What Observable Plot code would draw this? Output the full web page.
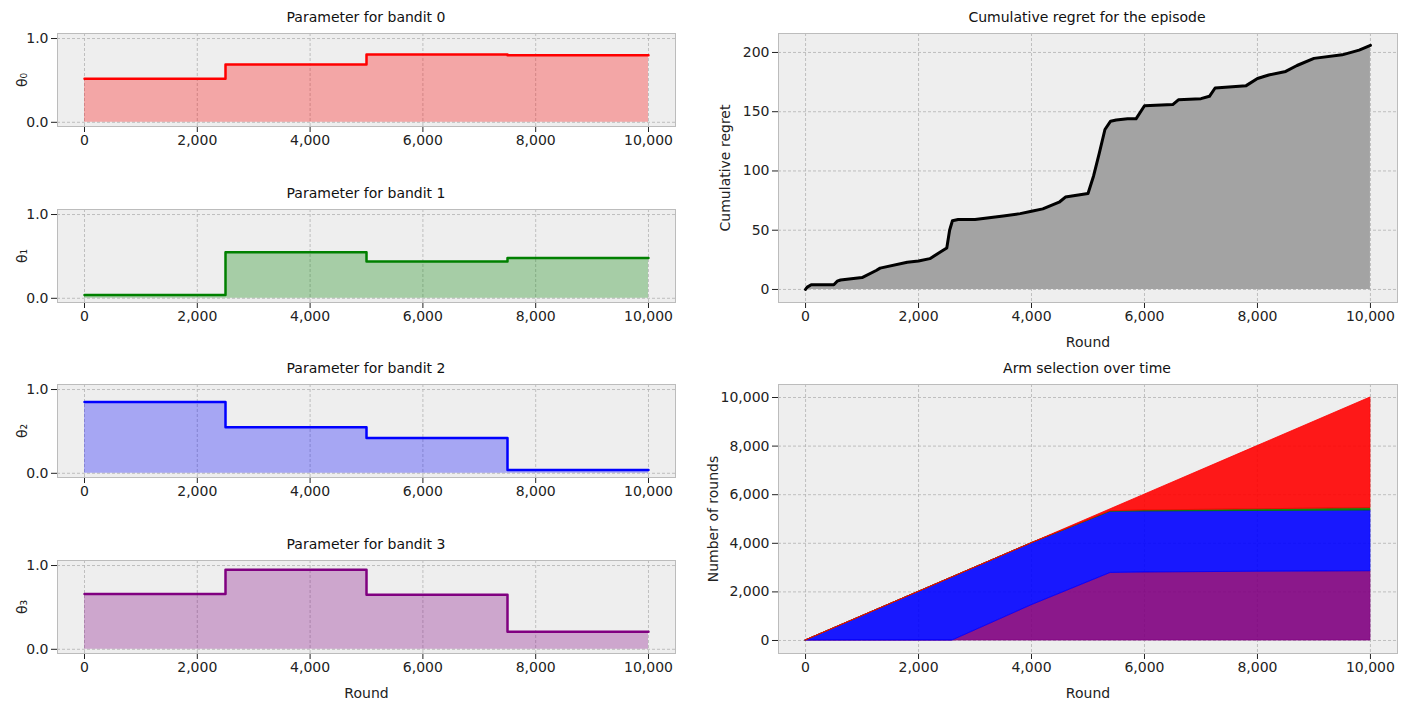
<!DOCTYPE html>
<html>
<head>
<meta charset="utf-8">
<script src="https://cdn.jsdelivr.net/npm/d3@7"></script>
<script src="https://cdn.jsdelivr.net/npm/@observablehq/plot@0.6"></script>
<style>
  body { margin: 0; background: #fff; font-family: "DejaVu Sans", sans-serif; }
  #wrap { position: relative; width: 1408px; height: 707px; }
  .panel { position: absolute; }
  .ttl { position: absolute; font-size: 14px; color: #111; text-align: center; }
</style>
</head>
<body>
<div id="wrap"></div>
<script>
// change points of the bandit parameters
const steps = [0, 2500, 5000, 7500, 10000]
const theta0 = [0.52, 0.69, 0.81, 0.80]
const theta1 = [0.04, 0.55, 0.44, 0.48]
const theta2 = [0.85, 0.55, 0.42, 0.04]
const theta3 = [0.66, 0.95, 0.65, 0.21]
const banditColors = ["red", "green", "blue", "purple"]

// cumulative regret
const regretRound = [0, 30, 100, 500, 560, 620, 1000, 1250, 1320, 1800, 2000, 2200, 2400, 2500, 2550, 2600, 2700, 3000, 3500, 3800, 4000, 4200, 4500, 4600, 5000, 5100, 5200, 5300, 5400, 5500, 5700, 5850, 6000, 6500, 6600, 7000, 7150, 7250, 7800, 8000, 8200, 8500, 8700, 9000, 9500, 9800, 10000]
const regretValue = [0, 2, 4, 4, 7, 8, 10, 16, 18, 23, 24, 26, 32, 35, 50, 58, 59, 59, 62, 64, 66, 68, 74, 78, 81, 96, 115, 135, 142, 143, 144, 144, 155, 156, 160, 161, 163, 170, 172, 178, 181, 184, 189, 195, 198, 202, 206]

// arm selection counts (cumulative per arm)
const selRound = [0, 1000, 2000, 2600, 4000, 5400, 6000, 8000, 10000]
const arm3Count = [0, 0, 0, 0, 1450, 2780, 2800, 2830, 2850]
const arm2Count = [0, 1000, 2000, 2600, 2550, 2520, 2510, 2500, 2500]
const arm1Count = [0, 0, 0, 0, 0, 20, 40, 70, 100]
const arm0Count = [0, 0, 0, 0, 0, 80, 650, 2600, 4550]

const wrap = document.getElementById("wrap")
const bg = "#eeeeee", gridC = "#b2b2b2", frameC = "#bcbcbc"

function place(node, left, top) {
  node.classList.add("panel")
  node.style.left = left + "px"
  node.style.top = top + "px"
  wrap.appendChild(node)
}
function title(text, cx, top) {
  const d = document.createElement("div")
  d.className = "ttl"
  d.textContent = text
  d.style.left = (cx - 200) + "px"
  d.style.width = "400px"
  d.style.top = top + "px"
  wrap.appendChild(d)
}
function gridMarks(xt, yt) {
  return [
    Plot.frame({fill: bg}),
    Plot.gridX(xt, {stroke: gridC, strokeOpacity: 1, strokeDasharray: "3,2", strokeWidth: 0.8}),
    Plot.gridY(yt, {stroke: gridC, strokeOpacity: 1, strokeDasharray: "3,2", strokeWidth: 0.8})
  ]
}
const xTicks = [0, 2000, 4000, 6000, 8000, 10000]
const subs = ["₀", "₁", "₂", "₃"]

;[theta0, theta1, theta2, theta3].forEach((th, i) => {
  const rows = steps.map((s, j) => ({x: s, y: th[Math.min(j, th.length - 1)]}))
  const top = 33 + i * 175.7
  const last = i === 3
  const chart = Plot.plot({
    width: 690, height: 5 + 93 + (last ? 50 : 25),
    marginLeft: 57, marginRight: 15, marginTop: 5, marginBottom: last ? 50 : 25,
    style: {fontFamily: "DejaVu Sans", fontSize: "14px", background: "transparent", color: "#222"},
    x: {domain: [-479, 10479], ticks: xTicks, tickFormat: d => d, label: last ? "Round" : null, labelAnchor: "center", labelArrow: "none", labelOffset: 44},
    y: {domain: [-0.05, 1.06], ticks: [0, 1], label: "θ" + subs[i], labelAnchor: "center", labelArrow: "none", labelOffset: 40},
    marks: [
      ...gridMarks(xTicks, [0, 1]),
      Plot.areaY(rows, {x: "x", y: "y", curve: "step-after", fill: banditColors[i], fillOpacity: 0.3}),
      Plot.lineY(rows, {x: "x", y: "y", curve: "step-after", stroke: banditColors[i], strokeWidth: 2.5}),
      Plot.frame({stroke: frameC})
    ]
  })
  place(chart, 0, top - 5)
  title("Parameter for bandit " + i, 366, top - 24)
})

// cumulative regret
{
  const rows = regretRound.map((r, j) => ({x: r, y: regretValue[j]}))
  const yt = [0, 50, 100, 150, 200]
  const chart = Plot.plot({
    width: 712, height: 5 + 269 + 50,
    marginLeft: 78, marginRight: 15, marginTop: 5, marginBottom: 50,
    style: {fontFamily: "DejaVu Sans", fontSize: "14px", background: "transparent", color: "#222"},
    x: {domain: [-479, 10479], ticks: xTicks, tickFormat: d => d, label: "Round", labelAnchor: "center", labelArrow: "none", labelOffset: 44},
    y: {domain: [-11, 216], ticks: yt, label: "Cumulative regret", labelAnchor: "center", labelArrow: "none", labelOffset: 58},
    marks: [
      ...gridMarks(xTicks, yt),
      Plot.areaY(rows, {x: "x", y: "y", fill: "#a3a3a3"}),
      Plot.lineY(rows, {x: "x", y: "y", stroke: "black", strokeWidth: 3}),
      Plot.frame({stroke: frameC})
    ]
  })
  place(chart, 700, 28)
  title("Cumulative regret for the episode", 1087, 9)
}

// arm selection
{
  const rows = []
  const arms = [[3, arm3Count, "purple"], [2, arm2Count, "blue"], [1, arm1Count, "green"], [0, arm0Count, "red"]]
  arms.forEach(([a, c]) => selRound.forEach((r, j) => rows.push({x: r, y: c[j], arm: a})))
  const yt = [0, 2000, 4000, 6000, 8000, 10000]
  const colorOf = {0: "red", 1: "green", 2: "blue", 3: "purple"}
  const chart = Plot.plot({
    width: 712, height: 5 + 269 + 50,
    marginLeft: 78, marginRight: 15, marginTop: 5, marginBottom: 50,
    style: {fontFamily: "DejaVu Sans", fontSize: "14px", background: "transparent", color: "#222"},
    x: {domain: [-479, 10479], ticks: xTicks, tickFormat: d => d, label: "Round", labelAnchor: "center", labelArrow: "none", labelOffset: 44},
    y: {domain: [-535, 10535], ticks: yt, tickFormat: d => d, label: "Number of rounds", labelAnchor: "center", labelArrow: "none", labelOffset: 70},
    marks: [
      ...gridMarks(xTicks, yt),
      Plot.areaY(rows, {x: "x", y: "y", z: "arm", order: [3, 2, 1, 0], fill: d => colorOf[d.arm], fillOpacity: 0.9, stroke: d => colorOf[d.arm], strokeWidth: 0.8}),
      Plot.frame({stroke: frameC})
    ]
  })
  place(chart, 700, 379)
  title("Arm selection over time", 1087, 360)
}
</script>
</body>
</html>
